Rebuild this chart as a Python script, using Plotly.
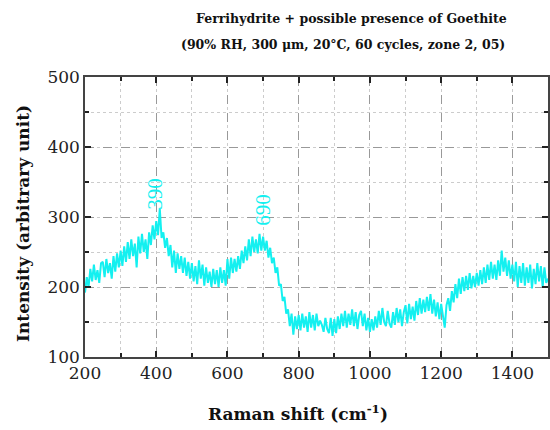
import plotly.graph_objects as go

raman_shift = list(range(200, 1501, 5))
intensity = [
    192, 214, 200, 226, 208, 232, 210, 224, 206, 234, 236, 214, 240, 220, 234, 212, 244, 222, 248, 228,
    252, 230, 258, 236, 264, 240, 268, 244, 262, 228, 272, 248, 276, 250, 268, 240, 278, 260, 288, 268,
    294, 274, 312, 270, 278, 256, 270, 244, 260, 228, 252, 220, 248, 226, 244, 220, 242, 216, 236, 212,
    234, 208, 230, 204, 238, 212, 232, 202, 228, 206, 222, 200, 226, 204, 224, 200, 228, 206, 224, 202,
    240, 212, 242, 220, 240, 222, 244, 226, 252, 234, 258, 238, 268, 244, 272, 250, 268, 248, 276, 252,
    272, 252, 266, 242, 256, 234, 242, 220, 228, 202, 204, 180, 186, 162, 168, 144, 162, 132, 158, 140,
    160, 138, 162, 142, 158, 136, 164, 142, 160, 138, 162, 144, 152, 146, 136, 156, 140, 134, 156, 130,
    154, 134, 158, 140, 162, 144, 166, 142, 162, 146, 168, 144, 164, 140, 160, 166, 144, 162, 138, 156,
    136, 154, 138, 158, 142, 166, 146, 170, 150, 144, 166, 148, 142, 164, 146, 170, 150, 168, 144, 164,
    174, 148, 176, 154, 172, 152, 180, 160, 184, 162, 182, 164, 186, 166, 190, 162, 182, 158, 178, 154,
    176, 156, 142, 174, 184, 166, 194, 178, 204, 184, 212, 190, 214, 194, 216, 196, 220, 198, 216, 200,
    220, 202, 224, 204, 228, 206, 232, 210, 236, 212, 232, 210, 238, 216, 252, 222, 242, 216, 238, 212,
    232, 208, 236, 200, 230, 206, 234, 202, 228, 206, 232, 198, 226, 204, 234, 208, 230, 200, 228, 206, 212,
]

peak_positions = [396, 701]
peak_label_y = [333, 311]
peak_labels = ["390", "690"]

x_tickvals = [200, 400, 600, 800, 1000, 1200, 1400]
y_tickvals = [100, 200, 300, 400, 500]

title_line1 = "Ferrihydrite + possible presence of Goethite"
title_line2 = "(90% RH, 300 μm, 20°C, 60 cycles, zone 2, 05)"
x_title = "Raman shift (cm<sup>-1</sup>)"
y_title = "Intensity (arbitrary unit)"

CYAN = "#14F0F0"
SERIF = "DejaVu Serif"

W, H = 550, 430
L, R, T, B = 85, 2, 77, 73
pw, ph = W - L - R, H - T - B


def px(xpix):
    return (xpix - L) / pw


def py(ypix):
    return (H - B - ypix) / ph


fig = go.Figure()
fig.add_trace(go.Scatter(x=raman_shift, y=intensity, mode="lines",
                         line=dict(color=CYAN, width=2), showlegend=False, hoverinfo="skip"))

for xp, yp, lab in zip(peak_positions, peak_label_y, peak_labels):
    fig.add_annotation(x=xp, y=yp, xref="x", yref="y", text=lab, showarrow=False,
                       textangle=-90, font=dict(family="Liberation Serif", size=21, color=CYAN),
                       xanchor="center", yanchor="middle")

fig.add_annotation(x=px(351), y=py(18), xref="paper", yref="paper", text="<b>" + title_line1 + "</b>",
                   showarrow=False, font=dict(family=SERIF, size=12.5, color="#111"),
                   xanchor="center", yanchor="middle")
fig.add_annotation(x=px(343), y=py(45), xref="paper", yref="paper", text="<b>" + title_line2 + "</b>",
                   showarrow=False, font=dict(family=SERIF, size=12.5, color="#111"),
                   xanchor="center", yanchor="middle")
fig.add_annotation(x=px(298), y=py(413), xref="paper", yref="paper", text="<b>" + x_title + "</b>",
                   showarrow=False, font=dict(family=SERIF, size=17, color="#111"),
                   xanchor="center", yanchor="middle")
fig.add_annotation(x=px(23), y=py(224), xref="paper", yref="paper", text="<b>" + y_title + "</b>",
                   showarrow=False, textangle=-90, font=dict(family=SERIF, size=17, color="#111"),
                   xanchor="center", yanchor="middle")

fig.update_layout(
    width=W, height=H,
    margin=dict(l=L, r=R, t=T, b=B, autoexpand=False),
    paper_bgcolor="white", plot_bgcolor="white",
)

axis_common = dict(
    showline=True, linecolor="#444", linewidth=1.5, mirror="ticks",
    ticks="inside", ticklen=6, tickwidth=1.5, tickcolor="#222",
    showgrid=True, gridcolor="#999", griddash="dash", gridwidth=1,
    tickfont=dict(family=SERIF, size=17, color="#222"),
    zeroline=False, automargin=False,
)
fig.update_xaxes(range=[200, 1500], tickvals=x_tickvals,
                 minor=dict(dtick=100, tick0=200, ticks="inside", ticklen=4, tickcolor="#222", tickwidth=1.5,
                            showgrid=True, gridcolor="#ccc", griddash="dot", gridwidth=1),
                 **axis_common)
fig.update_yaxes(range=[100, 500], tickvals=y_tickvals,
                 minor=dict(dtick=50, tick0=100, ticks="inside", ticklen=4, tickcolor="#222", tickwidth=1.5,
                            showgrid=True, gridcolor="#ccc", griddash="dot", gridwidth=1),
                 **axis_common)

fig.write_html("out.html", config={"displayModeBar": False},
               post_script="document.body.style.margin='0';document.body.style.padding='0';")
